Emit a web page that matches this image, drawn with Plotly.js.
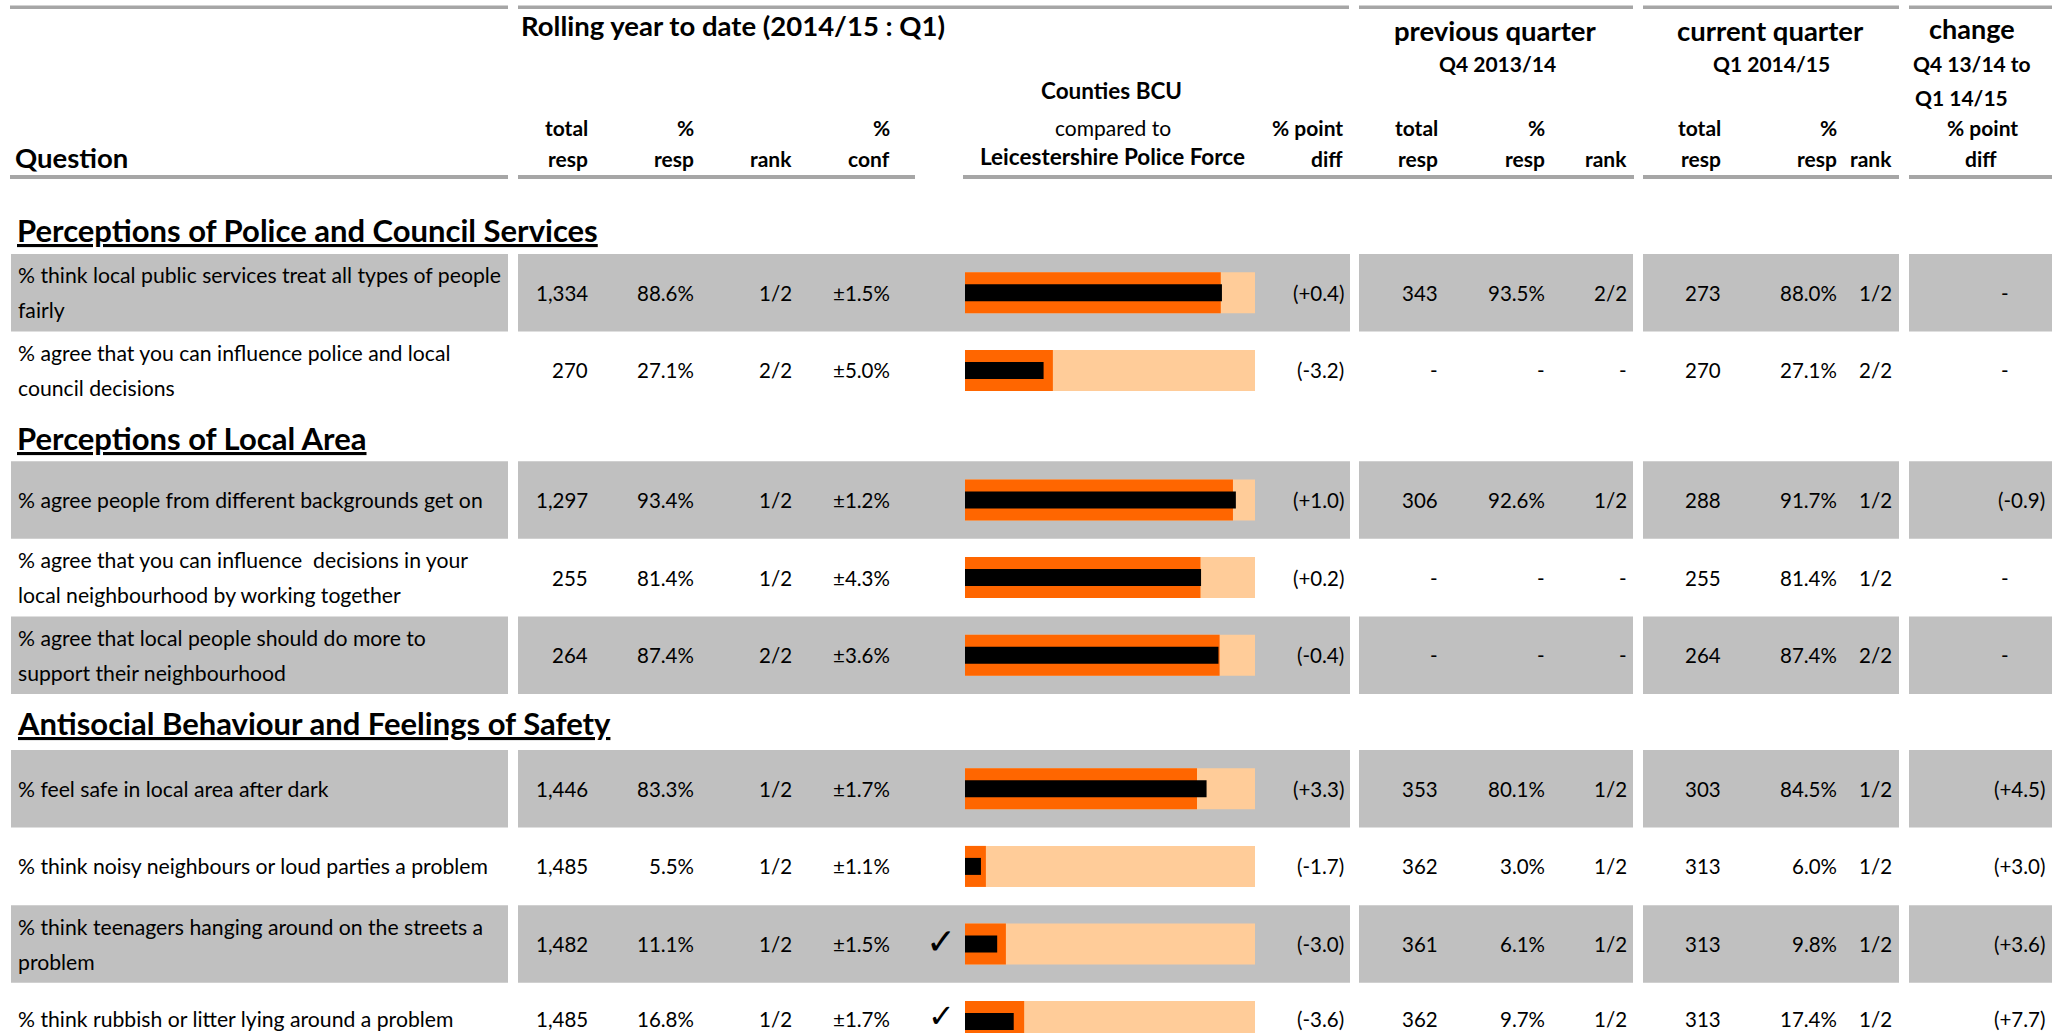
<!DOCTYPE html>
<html><head><meta charset="utf-8">
<script src="https://cdn.plot.ly/plotly-3.0.1.min.js"></script>
<style>html,body{margin:0;padding:0;background:#fff;overflow:hidden}#chart{width:2052px;height:1033px}</style>
</head><body><div id="chart"></div>
<script>
// ---------------- DATA ----------------
const sections = ['Perceptions of Police and Council Services','Perceptions of Local Area','Antisocial Behaviour and Feelings of Safety'];
const sectionSizes = [2, 3, 4];
const questions = [
  ['% think local public services treat all types of people', 'fairly'],
  ['% agree that you can influence police and local', 'council decisions'],
  ['% agree people from different backgrounds get on'],
  ['% agree that you can influence  decisions in your', 'local neighbourhood by working together'],
  ['% agree that local people should do more to', 'support their neighbourhood'],
  ['% feel safe in local area after dark'],
  ['% think noisy neighbours or loud parties a problem'],
  ['% think teenagers hanging around on the streets a', 'problem'],
  ['% think rubbish or litter lying around a problem']
];
const ytdTotal = ['1,334','270','1,297','255','264','1,446','1,485','1,482','1,485'];
const ytdPct   = [88.6, 27.1, 93.4, 81.4, 87.4, 83.3, 5.5, 11.1, 16.8];
const ytdRank  = ['1/2','2/2','1/2','1/2','2/2','1/2','1/2','1/2','1/2'];
const ytdConf  = [1.5, 5.0, 1.2, 4.3, 3.6, 1.7, 1.1, 1.5, 1.7];
const forcePct = [88.2, 30.3, 92.4, 81.2, 87.8, 80.0, 7.2, 14.1, 20.4];
const pointDiff = [0.4, -3.2, 1.0, 0.2, -0.4, 3.3, -1.7, -3.0, -3.6];
const significant = [false, false, false, false, false, false, false, true, true];
const prevTotal = ['343','-','306','-','-','353','362','361','362'];
const prevPct   = [93.5, null, 92.6, null, null, 80.1, 3.0, 6.1, 9.7];
const prevRank  = ['2/2','-','1/2','-','-','1/2','1/2','1/2','1/2'];
const curTotal  = ['273','270','288','255','264','303','313','313','313'];
const curPct    = [88.0, 27.1, 91.7, 81.4, 87.4, 84.5, 6.0, 9.8, 17.4];
const curRank   = ['1/2','2/2','1/2','1/2','2/2','1/2','1/2','1/2','1/2'];
const qChange   = [null, null, -0.9, null, null, 4.5, 3.0, 3.6, 7.7];
const shaded    = [true, false, true, false, true, true, false, true, false];

// ---------------- LAYOUT ----------------
const W = 2052, H = 1033;
const FONT = 'Lato, "Open Sans", sans-serif';
const ROW_H = 77.6;
const firstTop = 254;
const sectionGaps = [0, 52, 56];
const headerOffsets = [24, 23, 27];
const GRAY = '#C0C0C0', LINE = '#A6A6A6';
const ORANGE = '#FF6600', PEACH = '#FFCC99';

const rowTop = [], rowMid = [], secY = [];
let cur = firstTop;
sectionSizes.forEach((n, s) => {
  cur += sectionGaps[s];
  secY.push(cur - headerOffsets[s]);
  for (let k = 0; k < n; k++) { rowTop.push(cur); rowMid.push(cur + ROW_H / 2); cur += ROW_H; }
});

const fmtPct = v => v == null ? '-' : v.toFixed(1) + '%';
const fmtDiff = v => '(' + (v >= 0 ? '+' : '') + v.toFixed(1) + ')';

const shapes = [];
const rect = (x0, x1, y0, y1, c) => shapes.push({type:'rect', xref:'x', yref:'y', x0, x1, y0, y1, fillcolor:c, line:{width:0}, layer:'below'});
const bandSegs = [[11,508],[518,1350],[1359,1633],[1643,1899],[1909,2052]];
const topSegs  = [[10,508],[518,1349],[1359,1633],[1643,1899],[1909,2052]];
const botSegs  = [[10,508],[518,915],[963,1634],[1643,1899],[1909,2052]];
topSegs.forEach(s => rect(s[0], s[1], 5.5, 9, LINE));
botSegs.forEach(s => rect(s[0], s[1], 175, 179, LINE));
rowTop.forEach((t, i) => { if (shaded[i]) bandSegs.forEach(s => rect(s[0], s[1], t, t + ROW_H, GRAY)); });

const ann = [];
const txt = (text, x, y, anchor, size, bold, extra) => ann.push(Object.assign({
  text: bold ? '<b>' + text + '</b>' : text, x, y, xref:'x', yref:'y', xanchor: anchor, yanchor:'middle',
  showarrow:false, font:{family:FONT, size, color:'#000'}}, extra || {}));

// header
txt('Rolling year to date (2014/15 : Q1)', 733, 25, 'center', 27.5, true);
txt('previous quarter', 1495, 30, 'center', 27.5, true);
txt('Q4 2013/14', 1497, 63, 'center', 21, true);
txt('current quarter', 1770, 30, 'center', 27.5, true);
txt('Q1 2014/15', 1771, 63, 'center', 21, true);
txt('change', 1972, 28, 'center', 27, true);
txt('Q4 13/14 to', 1972, 63, 'center', 21, true);
txt('Q1 14/15', 1913, 97, 'left', 21, true);
txt('Counties BCU', 1111, 90, 'center', 22.5, true);
txt('compared to', 1113, 127, 'center', 21, false);
txt('Leicestershire Police Force', 1112, 156, 'center', 22.5, true);
txt('Question', 13, 157, 'left', 27.5, true);
const sub1 = 127, sub2 = 158;
[[590,'total','resp'],[696,'%','resp'],[794,'','rank'],[892,'%','conf'],[1345,'% point','diff'],
 [1440,'total','resp'],[1547,'%','resp'],[1629,'','rank'],[1723,'total','resp'],[1839,'%','resp'],[1894,'','rank']]
 .forEach(c => { if (c[1]) txt(c[1], c[0], sub1, 'right', 21, true); txt(c[2], c[0], sub2, 'right', 21, true); });
txt('% point', 1982, sub1, 'center', 21, true);
txt('diff', 1981, sub2, 'center', 21, true);

// section headers
sections.forEach((s, i) => txt(s, 15, secY[i], 'left', 31, true, {font:{family:FONT, size:31, color:'#000', lineposition:'under'}}));

// rows
questions.forEach((q, i) => {
  const last = i === questions.length - 1;
  const m = rowMid[i] - (last ? 3 : 0);
  if (q.length === 1) txt(q[0], 16, m, 'left', 21.2, false);
  else { txt(q[0], 16, m - 17.5, 'left', 21.2, false); txt(q[1], 16, m + 17.5, 'left', 21.2, false); }
  txt(ytdTotal[i], 590, m, 'right', 20.5, false);
  txt(fmtPct(ytdPct[i]), 696, m, 'right', 20.5, false);
  txt(ytdRank[i], 794, m, 'right', 20.5, false);
  txt('±' + ytdConf[i].toFixed(1) + '%', 892, m, 'right', 20.5, false);
  if (significant[i]) txt('✓', 941, m - 4, 'center', last ? 32 : 36, false);
  txt(fmtDiff(pointDiff[i]), 1346, m, 'right', 20.5, false);
  txt(prevTotal[i], 1440, m, 'right', 20.5, false);
  txt(fmtPct(prevPct[i]), 1547, m, 'right', 20.5, false);
  txt(prevRank[i], 1629, m, 'right', 20.5, false);
  txt(curTotal[i], 1723, m, 'right', 20.5, false);
  txt(fmtPct(curPct[i]), 1839, m, 'right', 20.5, false);
  txt(curRank[i], 1894, m, 'right', 20.5, false);
  if (qChange[i] == null) txt('-', 2005, m, 'center', 20.5, false);
  else txt(fmtDiff(qChange[i]), 2047, m, 'right', 20.5, false);
});

// bullet bars
const barBase = {type:'bar', orientation:'h', xaxis:'x2', yaxis:'y', y: rowMid, hoverinfo:'skip', showlegend:false};
const traces = [
  Object.assign({}, barBase, {x: rowMid.map(() => 100), width: 41, marker:{color:PEACH, line:{width:0}}, name:'scale'}),
  Object.assign({}, barBase, {x: forcePct, width: 41, marker:{color:ORANGE, line:{width:0}}, name:'Leicestershire Police Force'}),
  Object.assign({}, barBase, {x: ytdPct, width: 17, marker:{color:'#000', line:{width:0}}, name:'Counties BCU'})
];

const layout = {
  width: W, height: H, margin:{l:0, r:0, t:0, b:0}, paper_bgcolor:'#fff', plot_bgcolor:'rgba(0,0,0,0)',
  xaxis:{range:[0, W], visible:false, fixedrange:true},
  xaxis2:{domain:[965/W, 1255/W], range:[0, 100], visible:false, anchor:'y', fixedrange:true},
  yaxis:{range:[H, 0], visible:false, fixedrange:true},
  barmode:'overlay', showlegend:false, hovermode:false,
  shapes, annotations: ann
};
Plotly.newPlot('chart', traces, layout, {displayModeBar:false, staticPlot:true});
</script></body></html>
